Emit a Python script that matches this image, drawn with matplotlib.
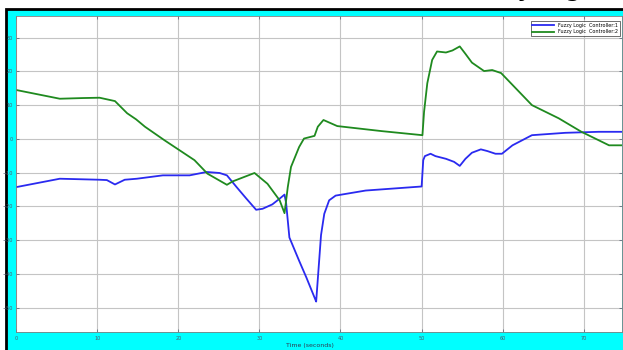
from matplotlib import pyplot as plt
from matplotlib.patches import Rectangle

# controller 1 response (blue)
t1 = [0, 5.4, 10.3, 11.2, 12.2, 13.4, 14.9, 16.5, 18.1, 21.4, 23.5, 25.1, 26.0,
      27.2, 28.4, 29.6, 30.4, 31.6, 32.5, 33.1, 33.3, 33.7, 34.9, 35.8, 36.9,
      37.0, 37.6, 38.0, 38.6, 39.4, 43.1, 50.0, 50.2, 50.4, 51.1, 51.7, 53.0,
      54.0, 54.7, 55.4, 56.2, 57.3, 58.1, 59.1, 59.9, 61.2, 63.6, 67.7, 71.8, 74.7]
y1 = [-14.3, -11.8, -12.1, -12.2, -13.5, -12.1, -11.8, -11.3, -10.8, -10.8, -9.8,
      -10.1, -10.8, -14.3, -17.7, -21.0, -20.7, -19.4, -17.7, -16.5, -19.1, -29.2,
      -36.1, -41.1, -47.6, -48.2, -28.5, -22.2, -18.2, -16.8, -15.3, -14.1, -6.3,
      -5.1, -4.4, -5.1, -5.9, -6.8, -8.0, -5.9, -4.1, -3.1, -3.6, -4.4, -4.4, -1.9,
      1.1, 1.8, 2.1, 2.1]

# controller 2 response (green)
t2 = [0, 5.4, 8.2, 10.3, 12.2, 13.7, 14.8, 15.9, 18.3, 22.0, 23.6, 26.0, 26.7,
      29.4, 31.0, 32.5, 33.1, 33.5, 33.9, 34.9, 35.5, 36.8, 37.2, 37.9, 39.6,
      45.1, 50.1, 50.3, 50.7, 51.3, 51.9, 53.0, 53.8, 54.7, 55.4, 56.2, 57.7,
      58.7, 59.8, 61.6, 63.6, 66.9, 69.7, 73.1, 74.7]
y2 = [14.5, 11.9, 12.1, 12.2, 11.2, 7.6, 5.8, 3.6, -0.4, -6.3, -10.3, -13.6, -12.6,
      -10.1, -13.3, -18.2, -22.0, -14.3, -8.3, -2.4, 0.1, 0.9, 3.6, 5.6, 3.8,
      2.3, 1.1, 8.0, 16.5, 23.4, 25.9, 25.6, 26.2, 27.4, 25.2, 22.6, 20.1,
      20.4, 19.5, 15.0, 10.0, 6.1, 2.1, -1.9, -1.9]

xticks = [0, 10, 20, 30, 40, 50, 60, 70]
yticks = [-50, -40, -30, -20, -10, 0, 10, 20, 30]

fig = plt.figure(figsize=(6.23, 3.5), dpi=100)
fig.patch.set_facecolor('white')

# cyan window frame with black edge, kept behind the axes
fig.patches.append(Rectangle((6 / 623, -0.05), 1.1, (350 - 9) / 350 + 0.05,
                             transform=fig.transFigure, facecolor='#00ffff',
                             edgecolor='black', linewidth=2, zorder=-10))

fig.text(600 / 623, 1.0 + 3 / 350, 'Fuzzy Logic', ha='right', va='baseline',
         fontsize=15, fontweight='bold', color='black')

ax = fig.add_axes([16 / 623, (350 - 332.3) / 350, (622 - 16) / 623, (332.3 - 15.7) / 350])
ax.set_facecolor('white')

ax.plot(t1, y1, '-', color='#2a2af0', linewidth=1.3, label='Fuzzy Logic  Controller:1')
ax.plot(t2, y2, '-', color='#1f8a1f', linewidth=1.3, label='Fuzzy Logic  Controller:2')

ax.set_xlim(0, 74.7)
ax.set_ylim(-57.3, 36.5)
ax.set_xticks(xticks)
ax.set_yticks(yticks)
ax.grid(True, color='#c4c4c4', linewidth=0.8)
ax.set_axisbelow(True)
ax.tick_params(direction='in', length=2, width=0.5, colors='#505a70',
               labelsize=3.5, pad=2.5, right=True, top=True)
for s in ax.spines.values():
    s.set_color('#808080')
    s.set_linewidth(0.6)

leg = ax.legend(loc='upper right', bbox_to_anchor=(0.997, 0.983), borderaxespad=0,
                fontsize=3.5, handlelength=4.5, frameon=True, fancybox=False,
                borderpad=0.4, labelspacing=0.3)
leg.get_frame().set_edgecolor('black')
leg.get_frame().set_linewidth(0.5)

fig.text(310 / 623, 4 / 350, 'Time (seconds)', ha='center', va='center',
         fontsize=4.5, color='#303a50')

plt.savefig('out.png', dpi=100)
